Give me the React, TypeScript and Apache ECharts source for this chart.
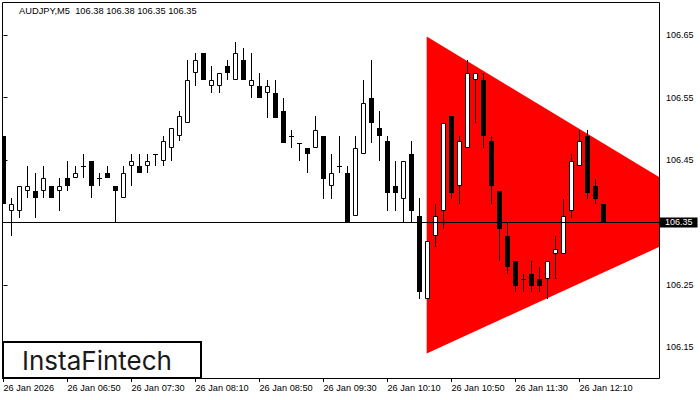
import React, { useEffect, useRef } from "react";
import * as echarts from "echarts";

const symbol = "AUDJPY,M5";
const tickIndex = [0, 8, 16, 24, 32, 40, 48, 56, 64, 72];
const tickLabels = [
  "26 Jan 2026", "26 Jan 06:50", "26 Jan 07:30", "26 Jan 08:10", "26 Jan 08:50",
  "26 Jan 09:30", "26 Jan 10:10", "26 Jan 10:50", "26 Jan 11:30", "26 Jan 12:10",
];
const priceTicks = [106.15, 106.25, 106.35, 106.45, 106.55, 106.65];

const opens = [
  106.489, 106.369, 106.369, 106.400, 106.400, 106.400, 106.409, 106.400, 106.421, 106.421,
  106.440, 106.449, 106.421, 106.430, 106.409, 106.390, 106.440, 106.440, 106.440, 106.459,
  106.449, 106.470, 106.489, 106.510, 106.590, 106.621, 106.569, 106.569, 106.600, 106.579,
  106.610, 106.569, 106.569, 106.558, 106.558, 106.529, 106.489, 106.478, 106.470, 106.470,
  106.489, 106.409, 106.440, 106.430, 106.360, 106.459, 106.550, 106.501, 106.480, 106.409,
  106.388, 106.459, 106.360, 106.228, 106.329, 106.369, 106.520, 106.409, 106.470, 106.579,
  106.579, 106.480, 106.400, 106.329, 106.289, 106.259, 106.268, 106.259, 106.259, 106.299,
  106.299, 106.369, 106.440, 106.489, 106.409, 106.379,
];
const closes = [
  106.379, 106.379, 106.409, 106.409, 106.390, 106.421, 106.390, 106.409, 106.409, 106.430,
  106.440, 106.409, 106.421, 106.421, 106.400, 106.430, 106.449, 106.430, 106.449, 106.459,
  106.480, 106.501, 106.520, 106.579, 106.610, 106.579, 106.579, 106.590, 106.590, 106.621,
  106.579, 106.579, 106.549, 106.569, 106.518, 106.478, 106.489, 106.478, 106.459, 106.499,
  106.419, 106.430, 106.440, 106.350, 106.470, 106.541, 106.509, 106.488, 106.398, 106.398,
  106.449, 106.369, 106.238, 106.320, 106.360, 106.510, 106.398, 106.480, 106.590, 106.590,
  106.488, 106.409, 106.339, 106.278, 106.249, 106.259, 106.249, 106.249, 106.289, 106.308,
  106.360, 106.449, 106.480, 106.398, 106.388, 106.350,
];
const highs = [
  106.489, 106.390, 106.409, 106.440, 106.430, 106.440, 106.409, 106.421, 106.449, 106.440,
  106.459, 106.449, 106.430, 106.440, 106.409, 106.440, 106.459, 106.459, 106.459, 106.459,
  106.489, 106.501, 106.529, 106.610, 106.621, 106.621, 106.600, 106.590, 106.610, 106.640,
  106.630, 106.621, 106.590, 106.579, 106.579, 106.550, 106.499, 106.478, 106.470, 106.520,
  106.489, 106.459, 106.489, 106.440, 106.489, 106.579, 106.610, 106.529, 106.489, 106.449,
  106.449, 106.480, 106.390, 106.320, 106.379, 106.510, 106.520, 106.489, 106.610, 106.590,
  106.590, 106.489, 106.400, 106.350, 106.289, 106.268, 106.289, 106.278, 106.289, 106.329,
  106.388, 106.459, 106.499, 106.499, 106.419, 106.379,
];
const lows = [
  106.379, 106.329, 106.358, 106.390, 106.358, 106.390, 106.390, 106.369, 106.400, 106.421,
  106.421, 106.390, 106.409, 106.421, 106.350, 106.390, 106.408, 106.430, 106.430, 106.440,
  106.440, 106.449, 106.480, 106.510, 106.569, 106.579, 106.558, 106.558, 106.579, 106.579,
  106.579, 106.549, 106.549, 106.518, 106.518, 106.478, 106.470, 106.449, 106.429, 106.470,
  106.388, 106.388, 106.429, 106.350, 106.360, 106.459, 106.478, 106.448, 106.369, 106.369,
  106.350, 106.350, 106.228, 106.228, 106.310, 106.339, 106.388, 106.379, 106.470, 106.509,
  106.470, 106.379, 106.288, 106.268, 106.239, 106.239, 106.239, 106.239, 106.228, 106.259,
  106.299, 106.358, 106.440, 106.388, 106.379, 106.350,
];

// triangle pattern: left-top, apex, left-bottom (bar index, price)
const triX = [52.9, 90.15, 52.9];
const triY = [106.648, 106.359, 106.14];

const FONT = "'Liberation Sans', Arial, sans-serif";

export default function App() {
  const ref = useRef<HTMLDivElement>(null);
  useEffect(() => {
    if (!ref.current) return;
    const chart = echarts.init(ref.current, undefined, { renderer: "svg" });
    const n = opens.length;
    const last = n - 1;
    const candleData = opens.map((o, i) => [i, o, closes[i], lows[i], highs[i]]);
    const title = `${symbol}  ${opens[last].toFixed(2)} ${highs[last].toFixed(2)} ${lows[last].toFixed(2)} ${closes[last].toFixed(2)}`;

    const renderCandle = (params: any, api: any) => {
      const i = api.value(0);
      const o = api.value(1), c = api.value(2), l = api.value(3), h = api.value(4);
      const pO = api.coord([i, o]);
      const pC = api.coord([i, c]);
      const pL = api.coord([i, l]);
      const pH = api.coord([i, h]);
      const cx = Math.floor(pO[0] + 0.01) + 0.5;
      const yO = Math.round(pO[1]);
      const yC = Math.round(pC[1]);
      const yH = Math.round(pH[1]);
      const yL = Math.round(pL[1]);
      const top = Math.min(yO, yC);
      const bot = Math.max(yO, yC);
      const children: any[] = [];
      if (yL - yH > 0) {
        children.push({
          type: "line",
          shape: { x1: cx, y1: yH, x2: cx, y2: yL },
          style: { stroke: "#000", lineWidth: 1 },
        });
      }
      if (bot - top < 1) {
        children.push({
          type: "line",
          shape: { x1: cx - 2.5, y1: top + 0.5, x2: cx + 2.5, y2: top + 0.5 },
          style: { stroke: "#000", lineWidth: 1 },
        });
      } else if (c > o) {
        children.push({
          type: "rect",
          shape: { x: cx - 2, y: top + 0.5, width: 4, height: Math.max(bot - top - 1, 1) },
          style: { fill: "#fff", stroke: "#000", lineWidth: 1 },
        });
      } else {
        children.push({
          type: "rect",
          shape: { x: cx - 2.5, y: top, width: 5, height: Math.max(bot - top, 1) },
          style: { fill: "#000" },
        });
      }
      return { type: "group", children };
    };

    const renderTriangle = (params: any, api: any) => {
      const pts = triX.map((x, k) => api.coord([x, triY[k]]));
      return { type: "polygon", shape: { points: pts }, style: { fill: "#ff0000" } };
    };

    chart.setOption({
      animation: false,
      backgroundColor: "#fff",
      grid: { left: 2, top: 3, right: 41, bottom: 22, containLabel: false },
      xAxis: {
        type: "value",
        min: -0.1875,
        max: 81.9375,
        axisLine: { show: false },
        splitLine: { show: false },
        axisTick: {
          show: true,
          customValues: tickIndex,
          length: 4,
          lineStyle: { color: "#000", width: 1 },
        },
        axisLabel: {
          show: true,
          customValues: tickIndex,
          formatter: (v: number) => {
            const k = tickIndex.indexOf(Math.round(v));
            return k >= 0 ? tickLabels[k] : "";
          },
          align: "left",
          margin: 5,
          color: "#000",
          fontSize: 9.2,
          fontFamily: FONT,
        },
      },
      yAxis: {
        type: "value",
        position: "right",
        min: 106.1008,
        max: 106.70176,
        axisLine: { show: false },
        splitLine: { show: false },
        axisTick: {
          show: true,
          customValues: priceTicks,
          length: 4,
          lineStyle: { color: "#000", width: 1 },
        },
        axisLabel: {
          show: true,
          customValues: priceTicks,
          formatter: (v: number) => v.toFixed(2),
          margin: 7,
          color: "#000",
          fontSize: 9,
          fontFamily: FONT,
        },
      },
      series: [
        {
          type: "custom",
          name: "triangle",
          clip: true,
          z: 1,
          data: [[triX[0], triY[0]]],
          encode: { x: 0, y: 1 },
          renderItem: renderTriangle,
          silent: true,
        },
        {
          type: "custom",
          name: symbol,
          clip: true,
          z: 3,
          data: candleData,
          encode: { x: 0, y: [1, 2, 3, 4] },
          renderItem: renderCandle,
          silent: true,
          markLine: {
            silent: true,
            symbol: ["none", "none"],
            animation: false,
            lineStyle: { color: "#000", width: 1, type: "solid" },
            label: {
              show: true,
              position: "end",
              distance: 1,
              formatter: () => closes[last].toFixed(2),
              backgroundColor: "#000",
              color: "#fff",
              padding: [1, 5, 0, 5],
              lineHeight: 9,
              fontSize: 9,
              fontFamily: FONT,
            },
            data: [{ yAxis: closes[last] }],
          },
        },
      ],
      graphic: [
        {
          type: "rect",
          z: 100,
          silent: true,
          shape: { x: 2.5, y: 2.5, width: 657, height: 376 },
          style: { fill: "none", stroke: "#000", lineWidth: 1 },
        },
        {
          type: "text",
          z: 100,
          silent: true,
          style: {
            text: title,
            x: 19,
            y: 11,
            fill: "#000",
            fontSize: 9.3,
            fontFamily: FONT,
            textVerticalAlign: "middle",
            verticalAlign: "middle",
          },
        },
        {
          type: "rect",
          z: 101,
          silent: true,
          shape: { x: 3, y: 342, width: 198, height: 36 },
          style: { fill: "#fff", stroke: "#000", lineWidth: 2 },
        },
        {
          type: "text",
          z: 102,
          silent: true,
          style: {
            text: "InstaFintech",
            x: 22,
            y: 360,
            fill: "#1a1a1a",
            fontSize: 26,
            fontWeight: 400,
            fontFamily: "Inter, 'Noto Sans', sans-serif",
            textVerticalAlign: "middle",
            verticalAlign: "middle",
            letterSpacing: 0.6,
          },
        },
      ],
    });
    return () => chart.dispose();
  }, []);
  return (
    <div
      ref={ref}
      style={{ position: "fixed", left: 0, top: 0, width: 700, height: 400, background: "#fff" }}
    />
  );
}
